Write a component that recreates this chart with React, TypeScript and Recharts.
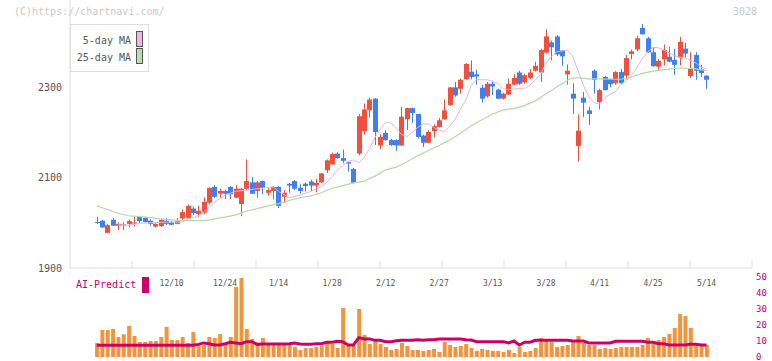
import React from 'react';
import { ComposedChart, Bar, Line, XAxis, YAxis, ReferenceLine } from 'recharts';

// daily OHLC, oldest first (index 0 .. 114)
const opens = [
  2002, 2005, 1978, 2007, 1994, 1995, 1998, 1999, 2014, 2011,
  2005, 1992, 1993, 2005, 2001, 1998, 2010, 2011, 2032, 2020,
  2023, 2045, 2080, 2065, 2071, 2080, 2056, 2042, 2076, 2090,
  2071, 2093, 2067, 2071, 2080, 2058, 2087, 2093, 2078, 2087,
  2092, 2083, 2090, 2117, 2130, 2154, 2144, 2135, 2120, 2154,
  2204, 2250, 2276, 2172, 2200, 2184, 2184, 2172, 2230, 2255,
  2242, 2194, 2178, 2204, 2213, 2230, 2262, 2301, 2298, 2319,
  2336, 2330, 2300, 2281, 2309, 2296, 2276, 2285, 2307, 2334,
  2312, 2322, 2338, 2334, 2378, 2401, 2414, 2383, 2330, 2287,
  2171, 2278, 2250, 2338, 2268, 2324, 2320, 2310, 2335, 2327,
  2375, 2385, 2433, 2410, 2379, 2347, 2363, 2369, 2362, 2367,
  2387, 2326, 2373, 2341, 2327,
];
const closes = [
  2001, 1990, 1995, 1994, 1998, 1997, 2004, 2001, 2004, 2002,
  1998, 1998, 2007, 1998, 1996, 2004, 2024, 2038, 2022, 2027,
  2047, 2078, 2058, 2071, 2065, 2064, 2076, 2076, 2093, 2065,
  2090, 2078, 2073, 2080, 2038, 2067, 2083, 2076, 2071, 2082,
  2083, 2089, 2110, 2139, 2153, 2144, 2138, 2132, 2089, 2237,
  2252, 2274, 2202, 2191, 2184, 2173, 2172, 2236, 2255, 2244,
  2191, 2178, 2202, 2215, 2228, 2250, 2301, 2283, 2318, 2353,
  2324, 2325, 2276, 2309, 2303, 2276, 2287, 2309, 2322, 2309,
  2328, 2334, 2349, 2384, 2414, 2390, 2374, 2370, 2338, 2276,
  2205, 2267, 2242, 2318, 2295, 2295, 2308, 2335, 2310, 2366,
  2381, 2410, 2419, 2379, 2348, 2360, 2384, 2358, 2351, 2402,
  2376, 2342, 2338, 2333, 2318,
];
const highs = [
  2014, 2007, 1998, 2011, 2001, 2002, 2008, 2014, 2016, 2014,
  2008, 1999, 2009, 2011, 2004, 2011, 2030, 2041, 2036, 2038,
  2057, 2079, 2084, 2076, 2074, 2082, 2084, 2078, 2141, 2102,
  2093, 2094, 2077, 2082, 2082, 2073, 2089, 2095, 2086, 2090,
  2096, 2098, 2111, 2141, 2156, 2157, 2163, 2136, 2122, 2242,
  2265, 2278, 2277, 2197, 2206, 2187, 2186, 2258, 2256, 2256,
  2242, 2196, 2206, 2219, 2233, 2274, 2302, 2313, 2321, 2355,
  2361, 2340, 2307, 2313, 2316, 2298, 2289, 2321, 2330, 2338,
  2331, 2342, 2358, 2387, 2430, 2405, 2417, 2384, 2352, 2310,
  2241, 2291, 2258, 2341, 2298, 2326, 2320, 2337, 2342, 2373,
  2385, 2415, 2442, 2413, 2390, 2364, 2396, 2391, 2387, 2413,
  2400, 2379, 2379, 2351, 2328,
];
const lows = [
  1998, 1989, 1977, 1993, 1984, 1984, 1990, 1992, 2000, 2001,
  1993, 1990, 1991, 1995, 1995, 1997, 2005, 2010, 2017, 2014,
  2020, 2041, 2056, 2056, 2053, 2053, 2055, 2015, 2073, 2064,
  2056, 2064, 2061, 2052, 2033, 2044, 2067, 2073, 2065, 2070,
  2071, 2068, 2089, 2111, 2129, 2142, 2133, 2114, 2088, 2150,
  2196, 2234, 2173, 2164, 2182, 2171, 2160, 2171, 2206, 2222,
  2188, 2169, 2177, 2190, 2212, 2229, 2260, 2280, 2287, 2318,
  2319, 2307, 2267, 2278, 2284, 2275, 2274, 2284, 2306, 2306,
  2309, 2319, 2336, 2313, 2376, 2361, 2371, 2349, 2307, 2242,
  2136, 2235, 2217, 2287, 2252, 2294, 2301, 2307, 2308, 2318,
  2363, 2381, 2418, 2378, 2347, 2339, 2350, 2357, 2329, 2350,
  2367, 2322, 2318, 2324, 2298,
];

// moving averages: [day index, value]
const ma5Points: [number, number][] = [
  [4, 1996], [6, 1995], [8, 1999], [11, 2001], [14, 2002], [16, 2002], [17, 2008], [19, 2016],
  [20, 2024], [21, 2034], [22, 2046], [24, 2062], [26, 2070], [28, 2073], [30, 2076], [33, 2080],
  [34, 2070], [36, 2056], [38, 2062], [40, 2070], [42, 2080], [43, 2090], [44, 2103], [45, 2118],
  [46, 2128], [47, 2137], [48, 2140], [49, 2134], [50, 2145], [51, 2165], [52, 2190], [53, 2207],
  [54, 2224], [55, 2222], [56, 2210], [57, 2196], [58, 2192], [59, 2202], [60, 2212], [61, 2220],
  [62, 2220], [63, 2212], [64, 2206], [65, 2203], [66, 2214], [67, 2230], [68, 2253], [69, 2273],
  [70, 2305], [71, 2318], [73, 2318], [75, 2310], [76, 2298], [77, 2296], [79, 2299], [80, 2299],
  [81, 2306], [82, 2318], [83, 2330], [84, 2355], [85, 2370], [86, 2380], [88, 2384], [89, 2370],
  [90, 2337], [91, 2305], [92, 2280], [93, 2267], [94, 2264], [95, 2278], [96, 2286], [97, 2292],
  [98, 2308], [99, 2316], [100, 2328], [101, 2345], [102, 2365], [103, 2380], [104, 2390], [105, 2389],
  [106, 2384], [107, 2378], [108, 2371], [109, 2368], [110, 2366], [111, 2361], [112, 2355], [113, 2346],
  [114, 2342],
];
const ma25Points: [number, number][] = [
  [0, 2038], [2, 2030], [4, 2021], [6, 2016], [8, 2014], [10, 2012], [12, 2009], [14, 2007],
  [16, 2005], [18, 2005], [20, 2005], [21, 2007], [22, 2009], [24, 2013], [26, 2018], [28, 2026],
  [30, 2032], [32, 2038], [34, 2043], [36, 2050], [38, 2056], [40, 2060], [42, 2067], [44, 2077],
  [46, 2083], [48, 2089], [50, 2093], [52, 2104], [54, 2118], [56, 2124], [58, 2136], [60, 2149],
  [62, 2161], [64, 2172], [66, 2184], [68, 2199], [70, 2216], [72, 2229], [74, 2242], [76, 2251],
  [78, 2254], [80, 2261], [82, 2271], [84, 2287], [86, 2302], [88, 2317], [89, 2322], [90, 2322],
  [92, 2320], [94, 2320], [96, 2319], [98, 2319], [100, 2324], [102, 2332], [104, 2337], [106, 2340],
  [108, 2343], [110, 2344], [112, 2342], [114, 2338],
];

const volumes = [
  8.8, 16.9, 16.9, 17.5, 12.5, 14.2, 19.4, 13.1, 9.4, 9.4,
  10, 10, 12.5, 18.8, 10.6, 10.6, 12.5, 8.8, 15.6, 7.5,
  7.5, 12.5, 11.9, 14.4, 8.8, 12.5, 43.8, 49.4, 17.5, 11.3,
  8.8, 11.9, 8.8, 8.8, 8.8, 7.5, 7.5, 6.3, 4.4, 5.6,
  5.6, 6.3, 6.9, 8.8, 8.1, 5.6, 30.6, 6.9, 6.9, 30,
  13.8, 8.1, 11.3, 8.1, 6.3, 4.4, 5, 8.8, 6.9, 4.4,
  4.4, 3.8, 4.4, 5, 3.1, 9.4, 7.5, 6.3, 6.9, 8.1,
  5.6, 3.8, 5, 4.4, 3.8, 3.8, 3.1, 4.4, 2.5, 6.3,
  3.1, 3.8, 5.6, 11.9, 10.2, 9.4, 6.3, 6.9, 7.5, 10.6,
  13.1, 8.8, 7.5, 7.5, 5, 5.6, 5, 5.6, 6.3, 6.3,
  6.3, 6.3, 7.5, 11.9, 8.1, 10.6, 12.5, 14.4, 18.1, 26.9,
  25.6, 18.1, 7.5, 7.5, 7.5,
];
const aiPredict = [
  7.3, 7.3, 7.3, 7.3, 7.3, 7.3, 7.3, 7.3, 7.3, 7.3,
  7.3, 7.3, 7.3, 7.3, 7.3, 7.3, 7.3, 7.3, 7.3, 7.9,
  8.8, 8.3, 7.5, 7.5, 8.3, 9.2, 8.8, 8.3, 9.6, 9.6,
  7.9, 8.1, 8.1, 8.1, 8.1, 8.1, 8.3, 8.8, 8.1, 7.9,
  7.9, 8.3, 8.3, 9.2, 9.2, 9.8, 9.6, 7.5, 7.5, 12.1,
  11.3, 11.3, 10.4, 10.4, 9.6, 9.6, 10.2, 10.4, 10.4, 10.4,
  10.8, 10.4, 10.8, 10.8, 11.3, 11.3, 11.3, 11.3, 11.3, 10.8,
  10.6, 9.6, 9.6, 9.6, 9.6, 9.6, 9.6, 8.8, 10, 7.5,
  9.2, 9.2, 10.4, 10.4, 10.4, 10.4, 10.4, 10.4, 10.4, 10,
  10, 10, 8.8, 8.8, 8.8, 8.8, 8.8, 9.8, 9.8, 9.8,
  9.8, 9.8, 9.8, 9.2, 9.2, 8.3, 8.3, 7.5, 7.5, 7.5,
  7.5, 7.9, 7.9, 7.5, 7.5,
];

const dateTickIdx = [14, 24, 34, 44, 54, 64, 74, 84, 94, 104, 114];
const dateTickLabels = ['12/10', '12/24', '1/14', '1/28', '2/12', '2/27', '3/13', '3/28', '4/11', '4/25', '5/14'];
const priceTicks = [1900, 2100, 2300];
const volumeTicks = [0, 10, 20, 30, 40, 50];

const X_DOMAIN: [number, number] = [-5, 122.5];
const RED = '#f0513f';
const BLUE = '#3f7fef';
const CRIMSON = '#cc0066';
const MONO = '"DejaVu Sans Mono", "Liberation Mono", monospace';

const ma5At = new Map(ma5Points);
const ma25At = new Map(ma25Points);
const rows = opens.map((open, i) => ({
  i,
  open,
  close: closes[i],
  high: highs[i],
  low: lows[i],
  range: [lows[i], highs[i]],
  ma5: ma5At.get(i) ?? null,
  ma25: ma25At.get(i) ?? null,
  vol: volumes[i],
  ai: aiPredict[i],
}));

const labelOf: Record<number, string> = {};
dateTickIdx.forEach((d, k) => (labelOf[d] = dateTickLabels[k]));

// small tick marks along the bottom axis (11 equal divisions)
const axisMarks = Array.from({ length: 11 }, (_, k) => X_DOMAIN[0] + ((k + 1) * (X_DOMAIN[1] - X_DOMAIN[0])) / 11);

const Candle = (props: any) => {
  const { x, y, width, height, payload } = props;
  if (x == null || y == null) return null;
  const { open, close, high, low } = payload;
  const top = Math.min(y, y + height);
  const bot = Math.max(y, y + height);
  const span = high - low || 1;
  const py = (v: number) => top + ((high - v) / span) * (bot - top);
  const color = close > open ? RED : BLUE;
  const cx = Math.round(x + width / 2) + 0.5;
  const b1 = py(Math.max(open, close));
  const b2 = py(Math.min(open, close));
  return (
    <g>
      <line x1={cx} x2={cx} y1={top} y2={bot} stroke={color} strokeWidth={1} />
      <rect x={cx - 2.5} y={b1} width={5} height={Math.max(b2 - b1, 1)} fill={color} />
    </g>
  );
};

export default function App() {
  return (
    <div style={{ position: 'absolute', left: 0, top: 0, width: 772, height: 361, background: '#fff', overflow: 'hidden' }}>
      <div style={{ position: 'absolute', left: 0, top: 267 }}>
        <ComposedChart width={772} height={94} data={rows} margin={{ top: 10, right: 0, left: 70, bottom: 4 }}>
          <XAxis dataKey="i" type="number" domain={X_DOMAIN} allowDataOverflow hide />
          <YAxis
            orientation="right"
            type="number"
            domain={[0, 50]}
            allowDataOverflow
            ticks={volumeTicks}
            interval={0}
            width={20}
            axisLine={false}
            tickLine={false}
            tickSize={0}
            tickMargin={4}
            tick={{ fontSize: 9, fill: CRIMSON, fontFamily: MONO }}
          />
          <Bar dataKey="vol" fill="#f0953c" barSize={4} isAnimationActive={false} />
          <Line dataKey="ai" type="linear" stroke={CRIMSON} strokeWidth={3} dot={false} isAnimationActive={false} />
        </ComposedChart>
      </div>

      <div style={{ position: 'absolute', left: 0, top: 0 }}>
        <ComposedChart width={772} height={290} data={rows} margin={{ top: 0, right: 20, left: 0, bottom: 0 }}>
          <XAxis
            dataKey="i"
            type="number"
            domain={X_DOMAIN}
            allowDataOverflow
            ticks={dateTickIdx}
            interval={0}
            tickFormatter={(v: number) => labelOf[v] ?? ''}
            height={22}
            tickLine={false}
            tickSize={0}
            tickMargin={12}
            axisLine={{ stroke: '#dddddd' }}
            tick={{ fontSize: 8, fill: '#555', fontFamily: MONO }}
          />
          <YAxis
            type="number"
            domain={[1900, 2495]}
            allowDataOverflow
            ticks={priceTicks}
            interval={0}
            width={70}
            tickLine={false}
            tickSize={0}
            tickMargin={8}
            axisLine={{ stroke: '#dddddd' }}
            tick={{ fontSize: 10, fill: '#555', fontFamily: MONO }}
          />
          {axisMarks.map((m) => (
            <ReferenceLine
              key={m}
              segment={[{ x: m, y: 1900 }, { x: m, y: 1916 }]}
              stroke="#dddddd"
              ifOverflow="visible"
            />
          ))}
          <Line dataKey="ma25" type="linear" stroke="#b2d9a6" strokeWidth={1.2} dot={false} connectNulls isAnimationActive={false} />
          <Line dataKey="ma5" type="linear" stroke="#e6b2e6" strokeWidth={1} dot={false} connectNulls isAnimationActive={false} />
          <Bar dataKey="range" barSize={5} shape={<Candle />} isAnimationActive={false} />
        </ComposedChart>
      </div>

      <div style={{ position: 'absolute', left: 14, top: 6, fontFamily: MONO, fontSize: 10, lineHeight: '12px', color: '#c8c8c8' }}>
        (C)https://chartnavi.com/
      </div>
      <div style={{ position: 'absolute', left: 733, top: 6, fontFamily: MONO, fontSize: 10, lineHeight: '12px', color: '#c8c8c8' }}>
        3028
      </div>

      <div
        style={{
          position: 'absolute', left: 70, top: 24, width: 77, height: 46,
          border: '1px solid #dddddd', background: '#fff', fontFamily: MONO, fontSize: 10, color: '#555',
        }}
      >
        <div style={{ position: 'absolute', right: 17, top: 10, lineHeight: '12px' }}>5-day MA</div>
        <div style={{ position: 'absolute', right: 17, top: 27, lineHeight: '12px' }}>25-day MA</div>
        <div style={{ position: 'absolute', left: 65, top: 6, width: 5, height: 14, background: '#ecb8ec', border: '1px solid #555' }} />
        <div style={{ position: 'absolute', left: 65, top: 23, width: 5, height: 14, background: '#bcdcb0', border: '1px solid #555' }} />
      </div>

      <div style={{ position: 'absolute', left: 76, top: 279, fontFamily: MONO, fontSize: 10, lineHeight: '12px', color: CRIMSON }}>
        AI-Predict
      </div>
      <div style={{ position: 'absolute', left: 142, top: 277, width: 7, height: 16, background: CRIMSON }} />
    </div>
  );
}
